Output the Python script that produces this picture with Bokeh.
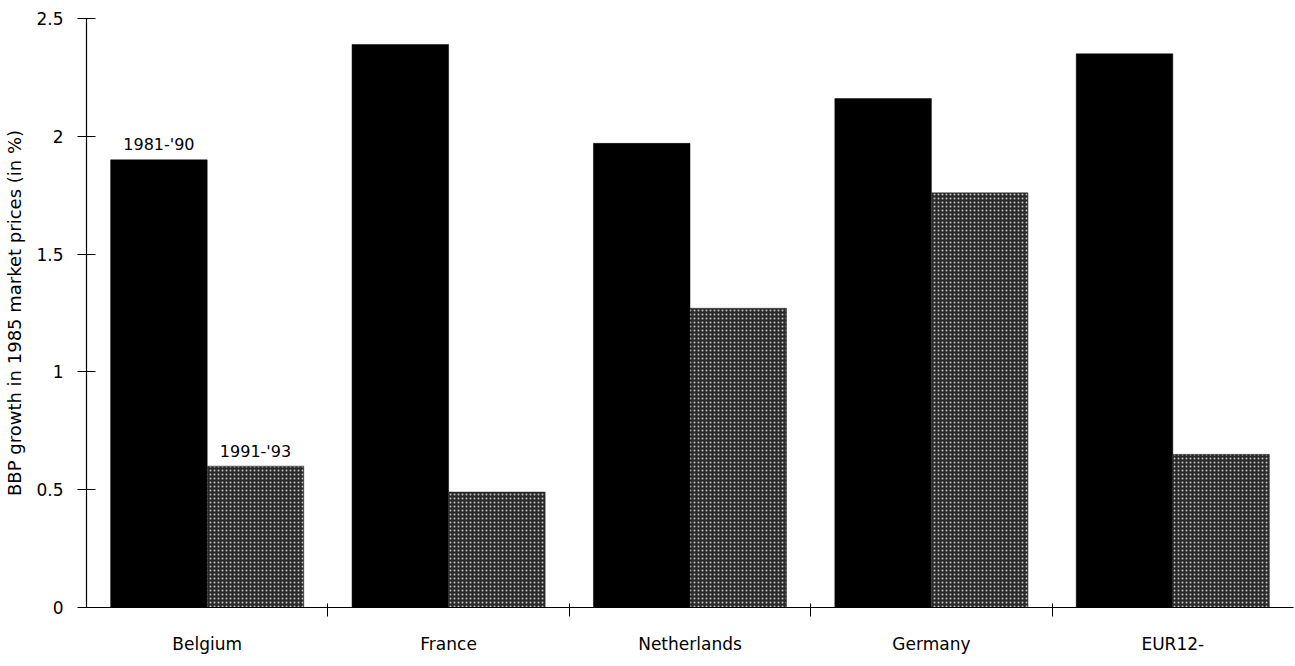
from bokeh.plotting import figure
from bokeh.models import ColumnDataSource, FixedTicker, Range1d
from bokeh.core.properties import value
from bokeh.embed import file_html
from bokeh.resources import INLINE

# GDP growth per country, two periods
countries = ["Belgium", "France", "Netherlands", "Germany", "EUR12-"]
growth_1981_90 = [1.90, 2.39, 1.97, 2.16, 2.35]
growth_1991_93 = [0.60, 0.49, 1.27, 1.76, 0.65]
period_labels = ["1981-'90", "1991-'93"]
y_ticks = [0, 0.5, 1, 1.5, 2, 2.5]

FONT = "DejaVu Sans"
n = len(countries)
centers = [i + 0.5 for i in range(n)]
bar_w = 0.4

src_a = ColumnDataSource(dict(x=[c - bar_w / 2 for c in centers], top=growth_1981_90))
src_b = ColumnDataSource(dict(x=[c + bar_w / 2 for c in centers], top=growth_1991_93))

p = figure(
    width=1295, height=666,
    x_range=Range1d(0, n), y_range=Range1d(0, 2.5),
    output_backend="svg", toolbar_location=None,
    min_border_left=86, min_border_right=2,
    min_border_top=18, min_border_bottom=59,
)
p.outline_line_color = None
p.xgrid.visible = False
p.ygrid.visible = False
p.background_fill_color = "white"
p.border_fill_color = "white"

p.vbar(x="x", top="top", width=bar_w, source=src_a,
       fill_color="black", line_color="black", line_width=0.5)
p.vbar(x="x", top="top", width=bar_w, source=src_b,
       fill_color="#2a2a2a", line_color="#2a2a2a", line_width=0.5,
       hatch_pattern="dot", hatch_color="#c0c0c0", hatch_scale=4, hatch_weight=1.3)

# period labels above the first group's bars
lab = ColumnDataSource(dict(
    x=[centers[0] - bar_w / 2, centers[0] + bar_w / 2],
    y=[growth_1981_90[0], growth_1991_93[0]],
    t=period_labels,
))
p.text(x="x", y="y", text="t", source=lab, text_align="center",
       text_baseline="alphabetic", y_offset=-15,
       text_font=value(FONT), text_font_size="16px", text_color="black")

# x axis: category names centred, ticks at group boundaries
xa = p.xaxis[0]
xa.ticker = FixedTicker(ticks=centers, minor_ticks=list(range(1, n)))
xa.major_label_overrides = {c: name for c, name in zip(centers, countries)}
xa.major_tick_line_color = None
xa.major_tick_out = 0
xa.major_tick_in = 0
xa.minor_tick_line_color = "black"
xa.minor_tick_in = 4
xa.minor_tick_out = 9
xa.major_label_standoff = 17
xa.major_label_text_font = FONT
xa.major_label_text_font_size = "17px"
xa.major_label_text_color = "black"
xa.axis_line_color = "black"
xa.axis_line_width = 1.2

ya = p.yaxis[0]
ya.ticker = FixedTicker(ticks=y_ticks)
ya.major_label_overrides = {0: "0", 1: "1", 2: "2"}
ya.minor_tick_line_color = None
ya.major_tick_in = 9
ya.major_tick_out = 9
ya.major_label_standoff = 14
ya.major_label_text_font = FONT
ya.major_label_text_font_size = "17px"
ya.major_label_text_color = "black"
ya.axis_line_color = "black"
ya.axis_line_width = 1.2
ya.axis_label = "BBP growth in 1985 market prices (in %)"
ya.axis_label_text_font = FONT
ya.axis_label_text_font_size = "18px"
ya.axis_label_text_font_style = "normal"
ya.axis_label_text_color = "black"
ya.axis_label_standoff = 8

open("out.html", "w").write(file_html(p, INLINE))
